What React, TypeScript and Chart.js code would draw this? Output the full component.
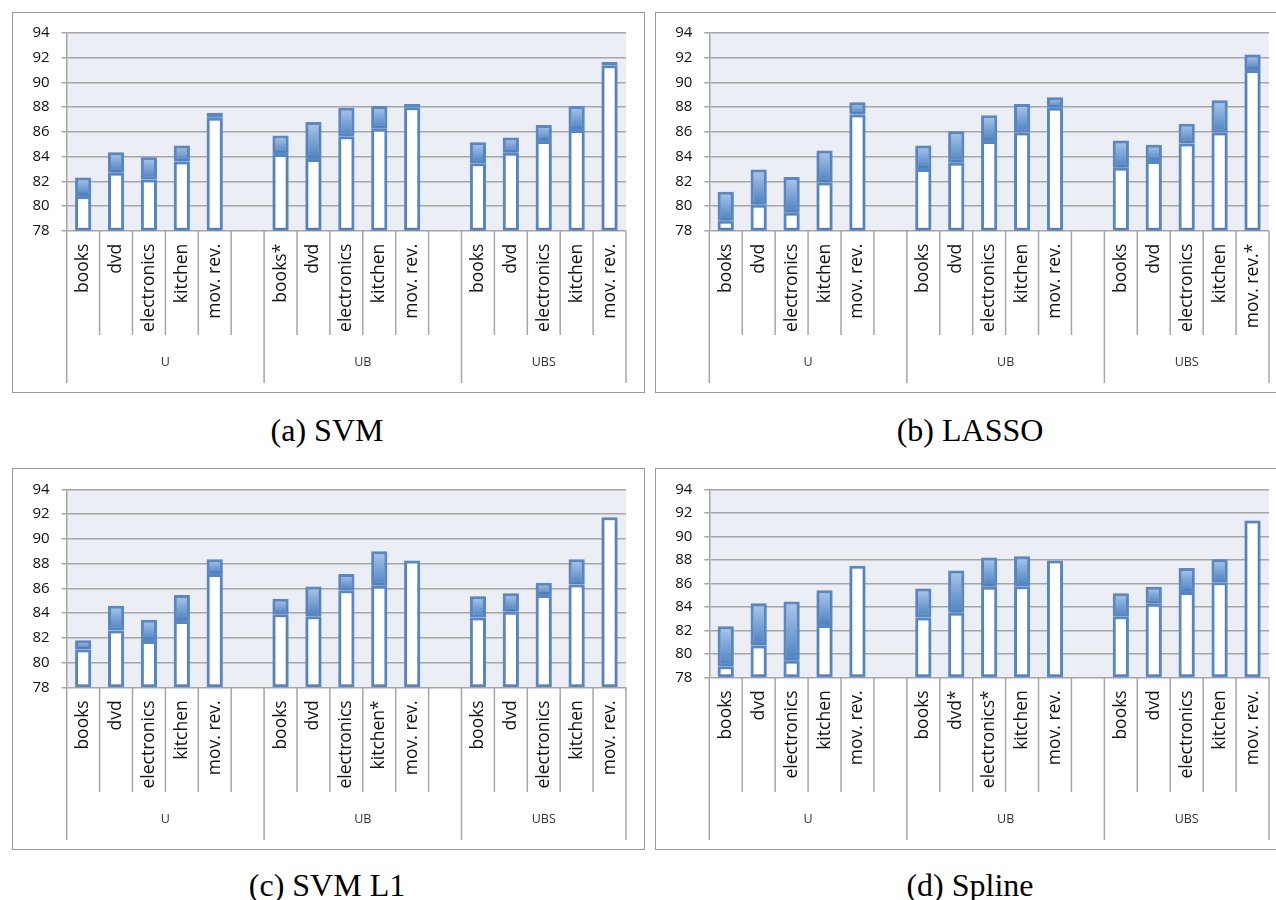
import React, { useEffect, useRef } from 'react';
import { Chart, registerables } from 'chart.js';

Chart.register(...registerables);

// ---------- data ----------
const CATEGORIES = ['books', 'dvd', 'electronics', 'kitchen', 'mov. rev.'];
const GROUPS = ['U', 'UB', 'UBS'];
const Y_MIN = 78;
const Y_MAX = 94;
const Y_STEP = 2;

// category labels per panel (asterisks mark significant results)
const SVM_LABELS = ['books', 'dvd', 'electronics', 'kitchen', 'mov. rev.', 'books*', 'dvd', 'electronics', 'kitchen', 'mov. rev.', 'books', 'dvd', 'electronics', 'kitchen', 'mov. rev.'];
const LASSO_LABELS = ['books', 'dvd', 'electronics', 'kitchen', 'mov. rev.', 'books', 'dvd', 'electronics', 'kitchen', 'mov. rev.', 'books', 'dvd', 'electronics', 'kitchen', 'mov. rev.*'];
const SVML1_LABELS = ['books', 'dvd', 'electronics', 'kitchen', 'mov. rev.', 'books', 'dvd', 'electronics', 'kitchen*', 'mov. rev.', 'books', 'dvd', 'electronics', 'kitchen', 'mov. rev.'];
const SPLINE_LABELS = ['books', 'dvd', 'electronics', 'kitchen', 'mov. rev.', 'books', 'dvd*', 'electronics*', 'kitchen', 'mov. rev.', 'books', 'dvd', 'electronics', 'kitchen', 'mov. rev.'];

// lower (white) and upper (blue) values per panel, order U, UB, UBS x categories
const SVM_LOW = [80.8, 82.7, 82.15, 83.6, 87.15, 84.2, 83.8, 85.65, 86.25, 88.0, 83.45, 84.3, 85.25, 86.15, 91.4];
const SVM_HIGH = [82.3, 84.35, 83.95, 84.9, 87.55, 85.7, 86.8, 87.95, 88.1, 88.25, 85.15, 85.55, 86.55, 88.1, 91.65];

const LASSO_LOW = [78.8, 80.1, 79.45, 81.9, 87.4, 83.0, 83.5, 85.25, 85.95, 87.95, 83.1, 83.65, 85.05, 85.95, 91.0];
const LASSO_HIGH = [81.15, 82.95, 82.35, 84.5, 88.4, 84.9, 86.05, 87.35, 88.25, 88.8, 85.3, 84.95, 86.65, 88.55, 92.25];

const SVML1_LOW = [81.05, 82.6, 81.75, 83.35, 87.15, 83.9, 83.75, 85.85, 86.2, 88.25, 83.65, 84.1, 85.45, 86.3, 91.75];
const SVML1_HIGH = [81.8, 84.6, 83.45, 85.45, 88.35, 85.15, 86.15, 87.15, 89.0, 88.25, 85.35, 85.6, 86.45, 88.35, 91.75];

const SPLINE_LOW = [78.95, 80.7, 79.4, 82.45, 87.5, 83.1, 83.5, 85.7, 85.75, 87.95, 83.2, 84.25, 85.25, 86.1, 91.35];
const SPLINE_HIGH = [82.35, 84.3, 84.45, 85.4, 87.5, 85.55, 87.1, 88.2, 88.3, 87.95, 85.15, 85.7, 87.3, 88.05, 91.35];

// ---------- helpers ----------
const PER_GROUP = CATEGORIES.length;

// insert one blank slot between groups
function expand<T>(arr: T[], blank: T): T[] {
  const out: T[] = [];
  GROUPS.forEach((_, g) => {
    for (let i = 0; i < PER_GROUP; i++) out.push(arr[g * PER_GROUP + i]);
    if (g < GROUPS.length - 1) out.push(blank);
  });
  return out;
}

function groupBounds(): number[] {
  const b: number[] = [];
  GROUPS.forEach((_, g) => b.push(g * (PER_GROUP + 1)));
  b.push(GROUPS.length * (PER_GROUP + 1) - 1);
  return b;
}

const BORDER = '#5889c7';
const GRID = '#a6a6a6';
const TEXT = '#111111';
const FONT = '"Open Sans", "Liberation Sans", sans-serif';

const decorPlugin = {
  id: 'panelDecor',
  beforeDraw(chart: any) {
    const { ctx, chartArea: a } = chart;
    ctx.save();
    ctx.fillStyle = '#ebeff5';
    ctx.fillRect(a.left, a.top, a.right - a.left, a.bottom - a.top);
    ctx.restore();
  },
  beforeDatasetsDraw(chart: any) {
    const ctx = chart.ctx;
    ctx.save();
    ctx.shadowColor = 'rgba(40, 60, 90, 0.3)';
    ctx.shadowBlur = 3;
    ctx.shadowOffsetX = 0;
    ctx.shadowOffsetY = 1;
  },
  afterDatasetsDraw(chart: any) {
    chart.ctx.restore();
  },
  afterDraw(chart: any) {
    const { ctx, chartArea: a, height } = chart;
    const labels: string[] = chart.data.labels;
    const n = labels.length;
    const slot = (a.right - a.left) / n;
    const bounds = groupBounds();
    const catBottom = height - 58;
    const groupBottom = height - 10;
    const groupY = height - 31;
    ctx.save();
    ctx.strokeStyle = GRID;
    ctx.lineWidth = 1.5;
    for (let i = 0; i <= n; i++) {
      const x = a.left + i * slot;
      const long = bounds.includes(i);
      ctx.beginPath();
      ctx.moveTo(x, a.bottom);
      ctx.lineTo(x, long ? groupBottom : catBottom);
      ctx.stroke();
    }
    ctx.fillStyle = TEXT;
    ctx.font = '17.5px ' + FONT;
    ctx.textAlign = 'right';
    ctx.textBaseline = 'middle';
    labels.forEach((l, i) => {
      if (!l) return;
      const x = a.left + (i + 0.5) * slot;
      ctx.save();
      ctx.translate(x, a.bottom + 13);
      ctx.rotate(-Math.PI / 2);
      ctx.fillText(l, 0, 0);
      ctx.restore();
    });
    ctx.font = '12.5px ' + FONT;
    ctx.textAlign = 'center';
    ctx.fillStyle = '#333333';
    GROUPS.forEach((g, k) => {
      const x0 = a.left + bounds[k] * slot;
      const x1 = a.left + bounds[k + 1] * slot;
      ctx.fillText(g, (x0 + x1) / 2, groupY);
    });
    ctx.restore();
  },
};

interface PanelProps {
  labels: string[];
  low: number[];
  high: number[];
  caption: string;
  box: { left: number; top: number; width: number; height: number };
  area: { padTop: number; padRight: number; yWidth: number; xHeight: number };
  captionTop: number;
}

function Panel(props: PanelProps) {
  const ref = useRef<HTMLCanvasElement | null>(null);
  useEffect(() => {
    if (!ref.current) return;
    const labels = expand(props.labels, '');
    const lowData = expand(props.low.map((v) => [Y_MIN, v] as any), null as any);
    const highData = expand(
      props.low.map((v, i) => (props.high[i] > v ? [v, props.high[i]] : null) as any),
      null as any
    );
    const gradientFill = (c: any) => {
      const chart = c.chart;
      const raw = c.raw;
      if (!chart.chartArea || !raw) return '#7ea6d8';
      const ys = chart.scales.y;
      const t = ys.getPixelForValue(raw[1]);
      const b = ys.getPixelForValue(raw[0]);
      if (!isFinite(t) || !isFinite(b) || t === b) return '#7ea6d8';
      const g = chart.ctx.createLinearGradient(0, t, 0, b);
      g.addColorStop(0, '#adc8ea');
      g.addColorStop(1, '#4c81c0');
      return g;
    };
    const chart = new Chart(ref.current, {
      type: 'bar',
      data: {
        labels,
        datasets: [
          {
            label: 'base',
            data: lowData,
            backgroundColor: '#ffffff',
            borderColor: BORDER,
            borderWidth: 3,
            borderSkipped: false,
            grouped: false,
            barPercentage: 0.49,
            categoryPercentage: 1,
          } as any,
          {
            label: 'gain',
            data: highData,
            backgroundColor: gradientFill,
            borderColor: BORDER,
            borderWidth: 3,
            borderSkipped: false,
            grouped: false,
            barPercentage: 0.49,
            categoryPercentage: 1,
          } as any,
        ],
      },
      options: {
        animation: false,
        responsive: false,
        maintainAspectRatio: false,
        layout: {
          padding: { top: props.area.padTop, right: props.area.padRight, left: 0, bottom: 0 },
        },
        plugins: {
          legend: { display: false },
          tooltip: { enabled: false },
          title: { display: false },
        },
        scales: {
          x: {
            type: 'category',
            ticks: { display: false },
            grid: { display: false },
            border: { display: false },
            afterFit: (s: any) => {
              s.height = props.area.xHeight;
            },
          },
          y: {
            min: Y_MIN,
            max: Y_MAX,
            ticks: {
              stepSize: Y_STEP,
              color: TEXT,
              padding: 12,
              font: { family: FONT, size: 15 },
            },
            grid: { color: GRID, lineWidth: 1.5, tickLength: 5, drawTicks: true },
            border: { display: true, color: GRID, width: 1.5 },
            afterFit: (s: any) => {
              s.width = props.area.yWidth;
            },
          },
        },
      } as any,
      plugins: [decorPlugin],
    });
    return () => chart.destroy();
  }, []);

  const { box } = props;
  return (
    <>
      <canvas
        ref={ref}
        width={box.width}
        height={box.height}
        style={{ position: 'absolute', left: box.left, top: box.top, width: box.width, height: box.height }}
      />
      <div
        style={{
          position: 'absolute',
          left: box.left,
          top: box.top,
          width: box.width,
          height: box.height,
          border: '1.5px solid #9a9a9a',
          boxSizing: 'border-box',
          pointerEvents: 'none',
        }}
      />
      <div
        style={{
          position: 'absolute',
          left: box.left,
          top: props.captionTop,
          width: 630,
          textAlign: 'center',
          fontFamily: '"Liberation Serif", "Times New Roman", serif',
          fontSize: 32,
          lineHeight: '36px',
          color: '#000',
        }}
      >
        {props.caption}
      </div>
    </>
  );
}

export default function App() {
  return (
    <div
      style={{
        position: 'fixed',
        left: 0,
        top: 0,
        width: 1276,
        height: 900,
        overflow: 'hidden',
        background: '#ffffff',
      }}
    >
      <Panel
        labels={SVM_LABELS}
        low={SVM_LOW}
        high={SVM_HIGH}
        caption="(a) SVM"
        box={{ left: 12, top: 12, width: 633, height: 381 }}
        area={{ padTop: 20.7, padRight: 19, yWidth: 54.7, xHeight: 162.3 }}
        captionTop={412}
      />
      <Panel
        labels={LASSO_LABELS}
        low={LASSO_LOW}
        high={LASSO_HIGH}
        caption="(b) LASSO"
        box={{ left: 655, top: 12, width: 630, height: 381 }}
        area={{ padTop: 20.7, padRight: 16, yWidth: 54.3, xHeight: 162.3 }}
        captionTop={412}
      />
      <Panel
        labels={SVML1_LABELS}
        low={SVML1_LOW}
        high={SVML1_HIGH}
        caption="(c) SVM L1"
        box={{ left: 12, top: 468, width: 633, height: 382 }}
        area={{ padTop: 21.3, padRight: 19, yWidth: 54.7, xHeight: 162.7 }}
        captionTop={867}
      />
      <Panel
        labels={SPLINE_LABELS}
        low={SPLINE_LOW}
        high={SPLINE_HIGH}
        caption="(d) Spline"
        box={{ left: 655, top: 468, width: 630, height: 382 }}
        area={{ padTop: 21.3, padRight: 16, yWidth: 54.3, xHeight: 172.7 }}
        captionTop={867}
      />
    </div>
  );
}
